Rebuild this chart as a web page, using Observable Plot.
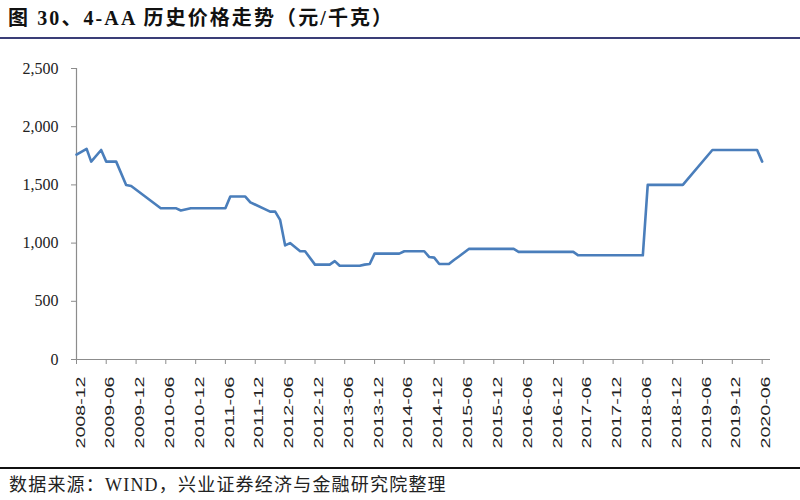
<!DOCTYPE html>
<html><head><meta charset="utf-8">
<script src="https://cdn.jsdelivr.net/npm/d3@7"></script>
<script src="https://cdn.jsdelivr.net/npm/@observablehq/plot@0.6"></script>
<style>
body{margin:0;background:#fff;width:800px;height:500px;overflow:hidden;font-family:"Liberation Serif","Noto Sans CJK SC",serif;}
#title{height:37px;border-bottom:2px solid #3a3d77;position:relative}
#title span{position:absolute;left:8px;top:6px;font-size:20px;font-weight:bold;letter-spacing:2.1px;line-height:24px;color:#111;white-space:nowrap}
#chart{height:428px}
#chart svg{display:block}
#foot{border-top:2px solid #111;position:relative;height:31px}
#foot span{position:absolute;left:9px;top:5px;font-size:18px;letter-spacing:1.2px;line-height:22px;color:#222;white-space:nowrap}
</style>
</head><body>
<div id="title"><span>图 30、4-AA 历史价格走势（元/千克）</span></div>
<div id="chart"></div>
<div id="foot"><span>数据来源：WIND，兴业证券经济与金融研究院整理</span></div>
<script>
const months = ["2008-12","2009-02","2009-03","2009-05","2009-06","2009-08","2009-10","2009-11",
  "2010-05","2010-08","2010-09","2010-11","2011-06","2011-07","2011-10","2011-11","2012-02","2012-03",
  "2012-04","2012-05","2012-06","2012-07","2012-09","2012-10","2012-12","2013-03","2013-04","2013-05",
  "2013-09","2013-10","2013-11","2013-12","2014-05","2014-06","2014-10","2014-11","2014-12","2015-01",
  "2015-03","2015-04","2015-05","2015-07","2016-04","2016-05","2017-04","2017-05","2018-06","2018-07",
  "2019-02","2019-08","2020-05","2020-06"];
const prices = [1760,1810,1700,1800,1700,1700,1500,1490,
  1300,1300,1280,1300,1300,1400,1400,1350,1290,1270,
  1270,1200,980,1000,930,930,815,815,845,805,
  805,815,820,910,910,930,930,880,875,820,
  820,855,885,950,950,925,925,895,895,1500,
  1500,1800,1800,1700];
const tickLabels = ["2008-12","2009-06","2009-12","2010-06","2010-12","2011-06","2011-12","2012-06",
  "2012-12","2013-06","2013-12","2014-06","2014-12","2015-06","2015-12","2016-06","2016-12","2017-06",
  "2017-12","2018-06","2018-12","2019-06","2019-12","2020-06"];
const yTicks = [0,500,1000,1500,2000,2500];

const parse = d3.utcParse("%Y-%m");
const data = months.map((m,i)=>({date:parse(m), price:prices[i]}));
const x0 = parse(tickLabels[0]);
const x1 = new Date(Date.UTC(2020,6,22));

const chart = Plot.plot({
  width:800, height:428,
  marginLeft:76, marginRight:30, marginTop:29, marginBottom:108,
  x:{type:"utc", domain:[x0,x1]},
  y:{domain:[0,2500]},
  marks:[
    Plot.ruleY([0],{stroke:"#8c8c8c",strokeWidth:1.2}),
    Plot.ruleX([{x:x0,y1:0,y2:2500}],{x:"x",y1:"y1",y2:"y2",stroke:"#8c8c8c",strokeWidth:1.2}),
    Plot.axisY({ticks:yTicks, tickFormat:d3.format(","), tickSize:5, tickPadding:13,
      stroke:"#8c8c8c", fill:"#222", fontSize:16, fontFamily:"Liberation Serif", label:null}),
    Plot.axisX({ticks:tickLabels.map(parse), tickFormat:d3.utcFormat("%Y-%m"), tickRotate:-90,
      tickSize:5, tickPadding:12, stroke:"#8c8c8c", fill:"#222", fontSize:13,
      fontFamily:"Liberation Sans", label:null}),
    Plot.lineY(data,{x:"date",y:"price",stroke:"#4a7ebb",strokeWidth:2.6})
  ]
});
document.getElementById("chart").appendChild(chart);
const lab = d3.select(chart).select('g[aria-label="x-axis tick label"]');
lab.attr("transform", (lab.attr("transform") || "") + " translate(4,0)");
lab.selectAll("text").attr("textLength",72).attr("lengthAdjust","spacingAndGlyphs");
</script>
</body></html>
